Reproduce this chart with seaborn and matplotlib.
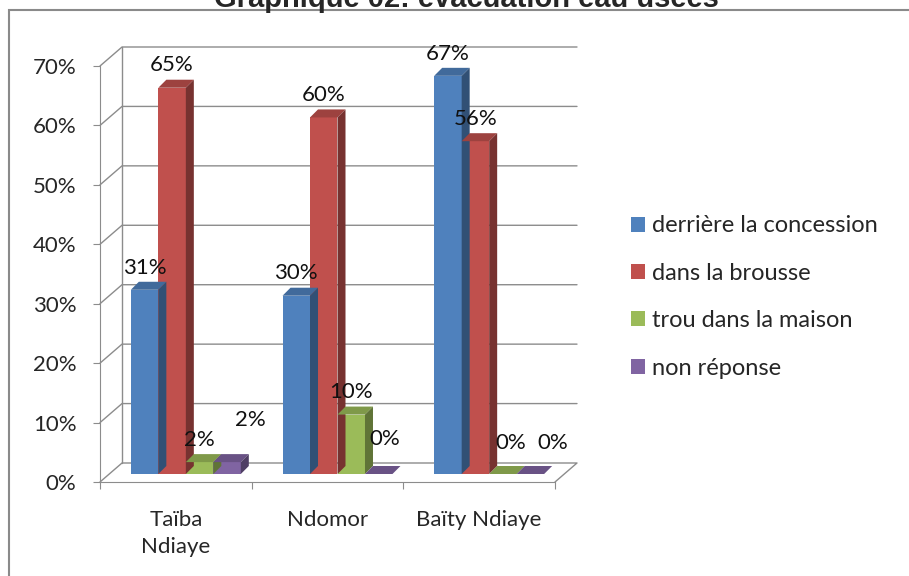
import matplotlib
matplotlib.use("Agg")
import matplotlib.pyplot as plt
from matplotlib.patches import Polygon, Rectangle, Patch
from matplotlib.transforms import offset_copy
import numpy as np
import pandas as pd
import seaborn as sns

# --- donnees ---
categories = ["Taïba\nNdiaye", "Ndomor", "Baïty Ndiaye"]
series = ["derrière la concession", "dans la brousse",
          "trou dans la maison", "non réponse"]
derriere = [31, 30, 67]
brousse = [65, 60, 56]
trou = [2, 10, 0]
non_reponse = [2, 0, 0]
couleurs = ["#4F81BD", "#C0504D", "#9BBB59", "#8064A2"]
titre = "Graphique 02: évacuation eau usées"

df = pd.DataFrame({
    "lieu": categories * 4,
    "mode": [s for s in series for _ in categories],
    "pct": [v / 100 for v in derriere + brousse + trou + non_reponse],
})

sns.set_style("white")
plt.rcParams["font.family"] = ["Lato", "DejaVu Sans"]
FS = 16

W, H = 909, 576
fig = plt.figure(figsize=(W / 100, H / 100), dpi=100)
ax = fig.add_axes([100 / W, (H - 482) / H, 455 / W, 416 / H])

sns.barplot(data=df, x="lieu", y="pct", hue="mode", order=categories,
            hue_order=series, palette=couleurs, width=0.725, ax=ax,
            legend=False, saturation=1, linewidth=0)

ax.set_xlim(-0.5, 2.5)
ax.set_ylim(0, 0.7)

# conversion pixels -> unites de donnees
px_x = 3 / 455
px_y = 0.7 / 416
grid_col = "#8C8C8C"

# mur du fond + plancher (effet 3D)
wall_dx, wall_dy = 22 * px_x, 19 * px_y
for v in np.arange(0.1, 0.71, 0.1):
    ax.plot([-0.5, -0.5 + wall_dx, 2.5 + wall_dx], [v, v + wall_dy, v + wall_dy],
            color=grid_col, lw=1, clip_on=False, zorder=0)
ax.plot([-0.5 + wall_dx] * 2, [wall_dy, 0.7 + wall_dy], color=grid_col, lw=1,
        clip_on=False, zorder=0)
ax.plot([-0.5, -0.5 + wall_dx, 2.5 + wall_dx, 2.5], [0, wall_dy, wall_dy, 0],
        color=grid_col, lw=1, clip_on=False, zorder=0)

# barres posees sur le plancher + faces superieure / laterale
shift = offset_copy(ax.transData, fig=fig, x=10, y=8, units="dots")
bar_dx, bar_dy = 8 * px_x, 8 * px_y


def assombrir(c, f):
    r, g, b = matplotlib.colors.to_rgb(c)
    return (r * f, g * f, b * f)


# decalage de quelques etiquettes (en points)
nudges = {(0, 3): (17, 14), (1, 3): (4, 9), (2, 2): (6, 6), (2, 3): (16, 6)}
for si, cont in enumerate(ax.containers):
    for ci, bar in enumerate(cont.patches):
        bar.set_transform(shift)
        bar.set_zorder(2)
        x0, w, h = bar.get_x(), bar.get_width(), bar.get_height()
        x1 = x0 + w
        top = Polygon([(x0, h), (x1, h), (x1 + bar_dx, h + bar_dy),
                       (x0 + bar_dx, h + bar_dy)], closed=True,
                      fc=assombrir(couleurs[si], 0.82), ec="none",
                      transform=shift, zorder=2, clip_on=False)
        side = Polygon([(x1, 0), (x1 + bar_dx, bar_dy), (x1 + bar_dx, h + bar_dy),
                        (x1, h)], closed=True, fc=assombrir(couleurs[si], 0.62),
                       ec="none", transform=shift, zorder=2, clip_on=False)
        ax.add_patch(top)
        ax.add_patch(side)
        nx, ny = nudges.get((ci, si), (0, 0))
        ax.annotate(f"{round(h * 100)}%", (x0 + w / 2, h),
                    xycoords=shift, xytext=(nx, 16 + ny), textcoords="offset points",
                    ha="center", va="center", fontsize=FS, color="#111111",
                    zorder=5, annotation_clip=False)

# axes
for s in ["top", "right"]:
    ax.spines[s].set_visible(False)
for s in ["left", "bottom"]:
    ax.spines[s].set_color(grid_col)
    ax.spines[s].set_zorder(0)
ax.set_yticks(np.arange(0, 0.71, 0.1))
ax.set_yticklabels([f"{int(round(v * 100))}%" for v in np.arange(0, 0.71, 0.1)])
ax.tick_params(axis="y", left=True, length=5, color=grid_col, pad=12,
               labelsize=FS)
ax.set_xticks([-0.5, 0.5, 1.5, 2.5])
ax.set_xticklabels([])
ax.tick_params(axis="x", bottom=True, length=5, color=grid_col)
ax.set_xticks([0, 1, 2], minor=True)
ax.set_xticklabels(categories, minor=True, fontsize=FS, linespacing=1.45)
ax.tick_params(axis="x", which="minor", length=0, pad=20)
ax.set_xlabel("")
ax.set_ylabel("")

# legende
handles = [Patch(fc=c, ec="none") for c in couleurs]
fig.legend(handles, series, loc="center left", bbox_to_anchor=(610 / W, 1 - 297 / H),
           frameon=False, fontsize=17, handlelength=0.6, handleheight=0.6,
           handletextpad=0.3, labelspacing=1.12)

# titre coupe en haut + cadre
fig.text(466 / W, 1 - 7 / H, titre, ha="center", va="baseline", fontsize=21,
         fontweight="bold", family="Liberation Sans")
fig.patches.append(Rectangle((9 / W, -0.5), 2, 1.5 - 10 / H, transform=fig.transFigure,
                             fill=False, ec="#8A8A8A", lw=1.5))

fig.savefig("out.png", dpi=100)
